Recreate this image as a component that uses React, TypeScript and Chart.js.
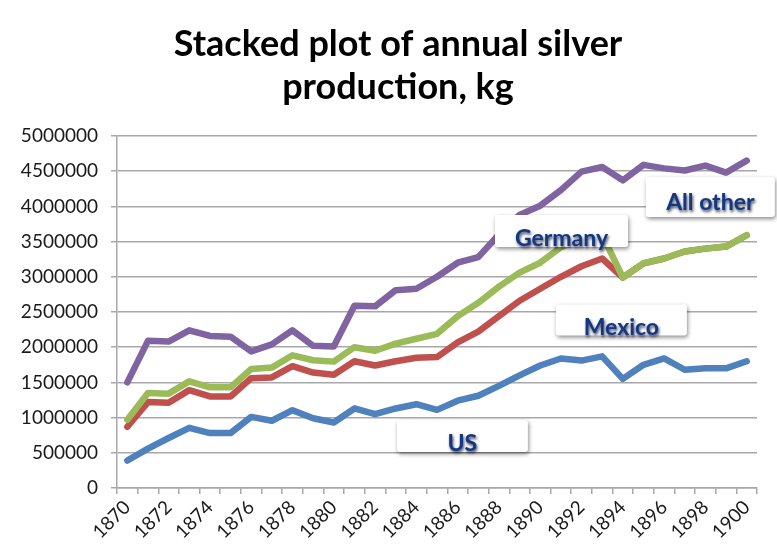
import React, { useEffect, useRef } from "react";
import { Chart, registerables } from "chart.js";

Chart.register(...registerables);

const years: string[] = [
  "1870", "1871", "1872", "1873", "1874", "1875", "1876", "1877", "1878", "1879",
  "1880", "1881", "1882", "1883", "1884", "1885", "1886", "1887", "1888", "1889",
  "1890", "1891", "1892", "1893", "1894", "1895", "1896", "1897", "1898", "1899", "1900",
];

// Cumulative (stacked) totals as plotted, kg
const usLine: number[] = [
  390000, 560000, 710000, 855000, 780000, 780000, 1010000, 955000, 1105000, 990000,
  930000, 1130000, 1050000, 1130000, 1190000, 1110000, 1240000, 1310000, 1450000, 1600000,
  1740000, 1840000, 1810000, 1870000, 1550000, 1750000, 1840000, 1680000, 1700000, 1700000, 1800000,
];
const usMexicoLine: number[] = [
  870000, 1220000, 1210000, 1390000, 1300000, 1300000, 1560000, 1570000, 1730000, 1640000,
  1610000, 1800000, 1740000, 1800000, 1850000, 1860000, 2070000, 2220000, 2440000, 2660000,
  2830000, 3000000, 3150000, 3260000, 2990000, 3190000, 3260000, 3360000, 3400000, 3430000, 3590000,
];
const usMexicoGermanyLine: number[] = [
  970000, 1350000, 1340000, 1515000, 1430000, 1430000, 1690000, 1710000, 1885000, 1815000,
  1795000, 2000000, 1950000, 2050000, 2120000, 2190000, 2440000, 2630000, 2860000, 3060000,
  3200000, 3420000, 3520000, 3600000, 2990000, 3190000, 3260000, 3360000, 3400000, 3430000, 3590000,
];
const allLine: number[] = [
  1500000, 2090000, 2080000, 2240000, 2160000, 2150000, 1940000, 2040000, 2240000, 2020000,
  2010000, 2590000, 2580000, 2810000, 2830000, 3000000, 3200000, 3280000, 3600000, 3880000,
  4010000, 4230000, 4495000, 4560000, 4370000, 4590000, 4540000, 4510000, 4580000, 4480000, 4650000,
];

const titleLines: string[] = ["Stacked plot of annual silver", "production, kg"];

// Series callouts: text, anchor (category index, value)
const calloutText: string[] = ["All other", "Germany", "Mexico", "US"];
const calloutIndex: number[] = [28.24, 21.03, 23.93, 16.23];
const calloutValue: number[] = [4133000, 3650000, 2386000, 739000];

const yTicks: number[] = [0, 500000, 1000000, 1500000, 2000000, 2500000, 3000000, 3500000, 4000000, 4500000, 5000000];

const GRID = "#a8a8a8";
const FONT = "Lato, 'Open Sans', sans-serif";

const titlePlugin = {
  id: "bigTitle",
  afterDraw(chart: any) {
    const ctx = chart.ctx;
    ctx.save();
    ctx.font = "bold 36px " + FONT;
    ctx.fillStyle = "#000";
    ctx.textAlign = "center";
    ctx.textBaseline = "alphabetic";
    ctx.fillText(titleLines[0], 398, 56);
    ctx.fillText(titleLines[1], 398, 99);
    ctx.restore();
  },
};

const calloutPlugin = {
  id: "callouts",
  afterDatasetsDraw(chart: any) {
    const ctx = chart.ctx;
    const xs = chart.scales.x;
    const ys = chart.scales.y;
    const sizes = [
      [129, 40],
      [133, 32],
      [131, 31],
      [131, 32],
    ];
    calloutText.forEach((t, i) => {
      const cx = xs.getPixelForValue(calloutIndex[i]);
      const cy = ys.getPixelForValue(calloutValue[i]);
      const [w, h] = sizes[i];
      const x0 = cx - w / 2;
      const y0 = cy - h / 2;
      ctx.save();
      ctx.shadowColor = "rgba(0,0,0,0.45)";
      ctx.shadowBlur = 4;
      ctx.shadowOffsetX = 1;
      ctx.shadowOffsetY = 2;
      ctx.fillStyle = "#ffffff";
      ctx.beginPath();
      ctx.roundRect(x0, y0, w, h, 3);
      ctx.fill();
      ctx.restore();
      ctx.save();
      ctx.font = "bold 23px " + FONT;
      ctx.textAlign = "center";
      ctx.textBaseline = "alphabetic";
      ctx.shadowColor = "rgba(0,10,40,0.75)";
      ctx.shadowBlur = 3;
      ctx.shadowOffsetX = 1;
      ctx.shadowOffsetY = 2;
      ctx.fillStyle = "#143782";
      ctx.fillText(t, cx, y0 + h - (i === 0 ? 7 : 1));
      ctx.restore();
    });
  },
};

export default function App() {
  const ref = useRef<HTMLCanvasElement | null>(null);
  useEffect(() => {
    if (!ref.current) return;
    const chart = new Chart(ref.current, {
      type: "line",
      data: {
        labels: years,
        datasets: [
          { label: "All other", data: allLine, borderColor: "#8064a2" },
          { label: "Germany", data: usMexicoGermanyLine, borderColor: "#9bbb59" },
          { label: "Mexico", data: usMexicoLine, borderColor: "#c0504d" },
          { label: "US", data: usLine, borderColor: "#4f81bd" },
        ].map((d) => ({
          ...d,
          borderWidth: 6.5,
          pointRadius: 0,
          tension: 0,
          fill: false,
          borderJoinStyle: "round" as const,
          borderCapStyle: "round" as const,
        })),
      },
      options: {
        animation: false,
        responsive: false,
        maintainAspectRatio: false,
        layout: { padding: { left: 0, right: 20, top: 136, bottom: 0 } },
        plugins: {
          legend: { display: false },
          tooltip: { enabled: false },
          title: { display: false },
        },
        scales: {
          x: {
            type: "category",
            offset: true,
            grid: {
              display: true,
              offset: true,
              drawOnChartArea: false,
              drawTicks: true,
              tickLength: 6,
              color: GRID,
              lineWidth: 1.5,
            },
            border: { display: true, color: GRID, width: 1.5 },
            ticks: {
              autoSkip: false,
              maxRotation: 45,
              minRotation: 45,
              padding: 2,
              color: "#1a1a1a",
              font: { family: FONT, size: 19 },
              callback: (_v: any, idx: number) => (idx % 2 === 0 ? years[idx] : ""),
            },
            afterFit: (s: any) => {
              s.height = 70;
            },
          },
          y: {
            min: 0,
            max: 5000000,
            afterBuildTicks: (s: any) => {
              s.ticks = yTicks.map((v) => ({ value: v }));
            },
            grid: {
              color: GRID,
              lineWidth: 1.5,
              drawTicks: true,
              tickLength: 6,
            },
            border: { display: true, color: GRID, width: 1.5 },
            ticks: {
              padding: 13,
              color: "#1a1a1a",
              font: { family: FONT, size: 19 },
              callback: (v: any) => String(v),
            },
            afterFit: (s: any) => {
              s.width = 117;
            },
          },
        },
      },
      plugins: [calloutPlugin, titlePlugin],
    });
    return () => chart.destroy();
  }, []);
  return (
    <div style={{ position: "fixed", left: 0, top: 0, width: 777, height: 558, background: "#fff" }}>
      <canvas ref={ref} width={777} height={558} style={{ width: 777, height: 558, display: "block" }} />
    </div>
  );
}
